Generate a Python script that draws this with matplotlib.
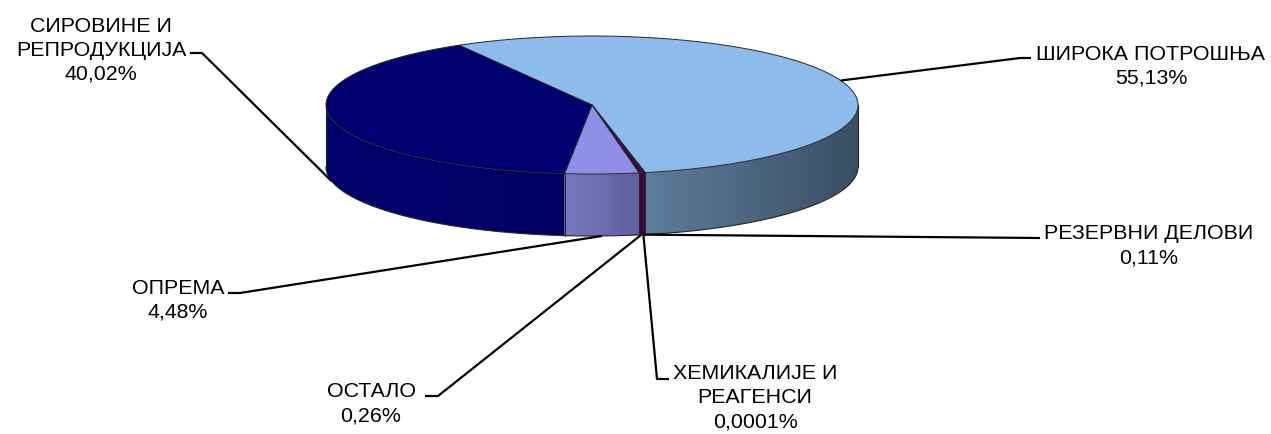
import matplotlib

matplotlib.use("Agg")
import matplotlib.pyplot as plt
import numpy as np
from matplotlib.colors import to_rgb

plt.rcParams["font.family"] = ["Liberation Sans", "DejaVu Sans"]

# --- data (clockwise from the first slice) ---
categories = [
    "ШИРОКА ПОТРОШЊА",
    "РЕЗЕРВНИ ДЕЛОВИ",
    "ХЕМИКАЛИЈЕ И\nРЕАГЕНСИ",
    "ОСТАЛО",
    "ОПРЕМА",
    "СИРОВИНЕ И\nРЕПРОДУКЦИЈА",
]
shares = [55.13, 0.11, 0.0001, 0.26, 4.48, 40.02]

# --- style ---
top_colors = ["#8DBBEB", "#5C0052", "#5C0052", "#4A0046", "#8F8FE8", "#000070"]
side_colors = [
    ("#5D7D9B", "#3B4E63"),
    ("#4E0046", "#440040"),
    ("#4E0046", "#440040"),
    ("#4A0044", "#40003E"),
    ("#7878BE", "#5F5F9E"),
    ("#00006E", "#000062"),
]
EDGE = "#262626"

# pie geometry in pixel units (y grows downward)
CX, CY, RX, RY, DEPTH = 592, 105, 266, 69, 62
START = 330.0  # degrees clockwise from 12 o'clock

# label layout: last-line baseline anchor + leader elbows
label_xy = [(1151, 84), (1149, 263), (755, 427), (371, 421), (178, 318), (101, 80)]
elbows = [
    [(1020, 58), (1031, 58)],
    [(1040, 238)],
    [(657, 379), (669, 379)],
    [(438, 396), (425, 396)],
    [(240, 293), (228, 293)],
    [(202, 53), (190, 53)],
]


def pct(v: float) -> str:
    s = f"{v:.2f}" if v >= 0.01 else f"{v:.4f}"
    return s.replace(".", ",") + "%"


def rim(theta, y0):
    t = np.radians(theta)
    return CX + RX * np.sin(t), y0 - RY * np.cos(t)


def front_part(t0, t1):
    # intersect [t0, t1] with the visible front half (90..270 mod 360)
    for k in range(-1, 3):
        lo, hi = 90 + 360 * k, 270 + 360 * k
        a, b = max(t0, lo), min(t1, hi)
        if b > a:
            return a, b
    return None


fig = plt.figure(figsize=(12.71, 4.34), dpi=100)
ax = fig.add_axes([0, 0, 1, 1])

total = sum(shares)
bounds = START + 360 * np.concatenate([[0], np.cumsum(shares)]) / total

# side walls, shaded left -> right
for i in range(len(shares)):
    part = front_part(bounds[i], bounds[i + 1])
    if part is None:
        continue
    th = np.linspace(part[0], part[1], max(3, int((part[1] - part[0]) * 2) + 2))
    xs, yt = rim(th, CY)
    _, yb = rim(th, CY + DEPTH)
    wall = np.column_stack([np.r_[xs, xs[::-1]], np.r_[yt, yb[::-1]]])
    patch = plt.Polygon(wall, closed=True, facecolor="none", edgecolor="none")
    ax.add_patch(patch)
    c0, c1 = np.array(to_rgb(side_colors[i][0])), np.array(to_rgb(side_colors[i][1]))
    f = np.linspace(0, 1, 256)[:, None]
    grad = (c0 + (c1 - c0) * f)[None, :, :]
    im = ax.imshow(grad, extent=(xs.min() - 1, xs.max() + 1, CY + DEPTH + RY + 2, CY - RY - 2),
                   aspect="auto", interpolation="bilinear", zorder=1)
    im.set_clip_path(patch)
    # vertical edges at the slice boundaries
    for t in part:
        x, y1 = rim(t, CY)
        _, y2 = rim(t, CY + DEPTH)
        ax.plot([x, x], [y1, y2], color=EDGE, lw=0.7, zorder=2)

# outer outline of the wall
th = np.linspace(90, 270, 200)
bx, by = rim(th, CY + DEPTH)
ax.plot(bx, by, color=EDGE, lw=0.8, zorder=2)
ax.plot([CX - RX, CX - RX], [CY, CY + DEPTH], color=EDGE, lw=0.8, zorder=2)
ax.plot([CX + RX, CX + RX], [CY, CY + DEPTH], color=EDGE, lw=0.8, zorder=2)

# top faces
for i in range(len(shares)):
    th = np.linspace(bounds[i], bounds[i + 1], max(2, int((bounds[i + 1] - bounds[i]) * 2) + 2))
    xs, ys = rim(th, CY)
    pts = np.column_stack([np.r_[CX, xs], np.r_[CY, ys]])
    ax.add_patch(plt.Polygon(pts, closed=True, facecolor=top_colors[i],
                             edgecolor=EDGE, lw=0.7, joinstyle="round", zorder=3))

# labels with leader lines
for i, name in enumerate(categories):
    mid = (bounds[i] + bounds[i + 1]) / 2
    in_front = front_part(mid - 1e-6, mid + 1e-6) is not None
    ax0, ay0 = rim(mid, CY + DEPTH if in_front else CY)
    pts = [(ax0, ay0)] + elbows[i]
    ax.plot([p[0] for p in pts], [p[1] for p in pts], color="black", lw=1.6,
            solid_capstyle="butt", solid_joinstyle="miter", zorder=4)
    tx, ty = label_xy[i]
    ax.text(tx, ty, f"{name}\n{pct(shares[i])}", ha="center", va="baseline",
            multialignment="center", fontsize=15.4, linespacing=1.33, color="black")

ax.set_xlim(0, 1271)
ax.set_ylim(434, 0)
ax.axis("off")

fig.savefig("out.png", dpi=100)
